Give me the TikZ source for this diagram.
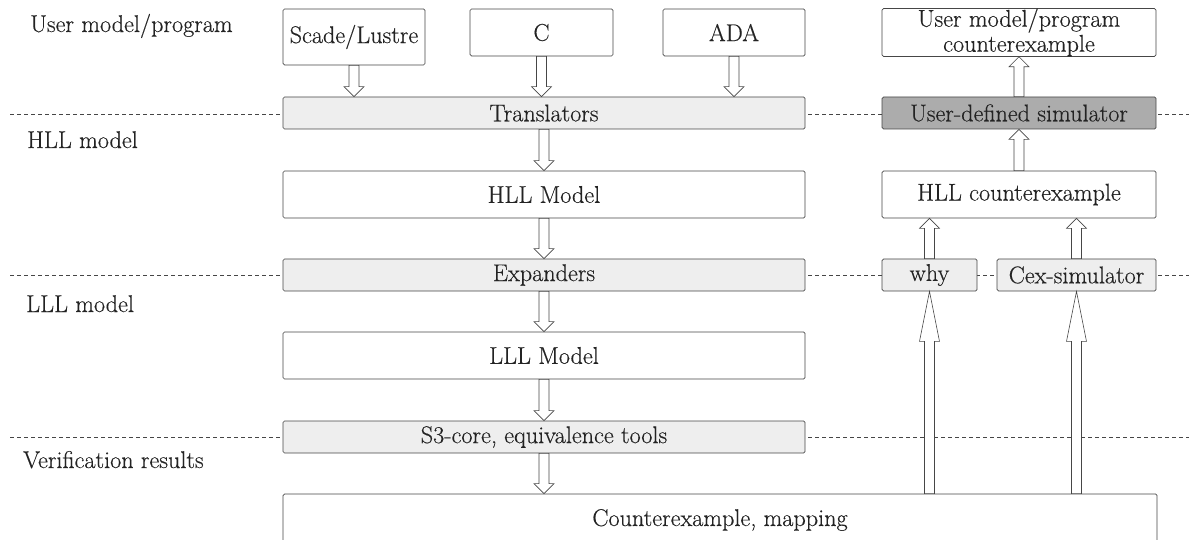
\documentclass[tikz,border=0pt]{standalone}
\usepackage{fontspec}
\setmainfont{Latin Modern Roman}[UprightFeatures={FakeBold=0.35}]
\usetikzlibrary{calc}
\definecolor{lightfill}{RGB}{238,238,238}
\definecolor{darkfill}{RGB}{172,172,172}
\definecolor{edge}{RGB}{70,70,70}
\definecolor{ink}{RGB}{35,35,35}
% hollow vertical block arrow from #2 to #3, head length #1
\newcommand\blockarrow[3][10pt]{%
  \draw[barrow] let \p1=(#2), \p2=(#3), \n1={sign(\y2-\y1)} in
    (\x1-5pt,\y1) -- (\x1-5pt,\y2-\n1*#1) -- (\x1-10pt,\y2-\n1*#1) -- (\x1,\y2)
    -- (\x1+10pt,\y2-\n1*#1) -- (\x1+5pt,\y2-\n1*#1) -- (\x1+5pt,\y1) -- cycle;}
\begin{document}
\begin{tikzpicture}[x=1pt,y=-1pt,
  txt/.style={text=ink, font=\rmfamily\fontsize{24.2}{25}\selectfont},
  box/.style={txt, draw=edge, line width=0.7pt, rounded corners=1.5pt, fill=white,
    inner sep=0pt, align=center},
  tool/.style={box, fill=lightfill},
  usertool/.style={box, fill=darkfill},
  layer/.style={txt, inner sep=0pt, anchor=base west},
  sep/.style={draw=edge, line width=0.6pt, dash pattern=on 4pt off 3pt},
  barrow/.style={draw=edge, fill=white, line width=0.6pt, line join=miter}]
\useasboundingbox (0,0) rectangle (1189,540);

% layer separators
\draw[sep] (10,114) -- (1189,114);
\draw[sep] (10,275) -- (1189,275);
\draw[sep] (10,437) -- (1189,437);

% layer names
\node[layer] (luser) at (30,32) {User model/program};
\node[layer] (lhll) at (27,148) {HLL model};
\node[layer] (llll) at (26,312) {LLL model};
\node[layer] (lver) at (23,468) {Verification results};

% source languages
\node[box, minimum width=142pt, minimum height=56pt] (scade) at (354,37) {Scade/Lustre};
\node[box, minimum width=143pt, minimum height=47pt] (cbox) at (541.5,32.5) {C};
\node[box, minimum width=142pt, minimum height=47pt] (ada) at (734,32.5) {ADA};

% main tool chain
\node[tool, minimum width=522pt, minimum height=32pt] (trans) at (544,113) {Translators};
\node[box, minimum width=522pt, minimum height=47pt] (hll) at (544,194.5) {HLL Model};
\node[tool, minimum width=522pt, minimum height=32pt] (exp) at (544,275) {Expanders};
\node[box, minimum width=522pt, minimum height=47pt] (lll) at (544,355.5) {LLL Model};
\node[tool, minimum width=522pt, minimum height=32pt] (s3) at (544,437) {S3-core, equivalence tools};
\node[box, minimum width=874pt, minimum height=52pt] (cm) at (720,520) {Counterexample, mapping};

% counterexample back-translation
\node[box, minimum width=274pt, minimum height=47pt] (ucex) at (1019,32.5) {User model/program\\counterexample};
\node[usertool, minimum width=274pt, minimum height=32pt] (usim) at (1019,113) {User-defined simulator};
\node[box, minimum width=274pt, minimum height=47pt] (hllcex) at (1019,194.5) {HLL counterexample};
\node[tool, minimum width=95pt, minimum height=32pt] (why) at (929.5,275) {why};
\node[tool, minimum width=159pt, minimum height=32pt] (cexsim) at (1076.5,275) {Cex-simulator};

% downward flow
\blockarrow{scade.south}{trans.north}
\blockarrow{cbox.south}{trans.north}
\blockarrow{ada.south}{trans.north}
\blockarrow{trans.south}{hll.north}
\blockarrow{hll.south}{exp.north}
\blockarrow{exp.south}{lll.north}
\blockarrow{lll.south}{s3.north}
\blockarrow{s3.south}{cm.north}

% upward flow
\blockarrow[50pt]{why.south |- cm.north}{why.south}
\blockarrow[50pt]{cexsim.south |- cm.north}{cexsim.south}
\blockarrow{why.north}{hllcex.south}
\blockarrow{cexsim.north}{hllcex.south}
\blockarrow{hllcex.north}{usim.south}
\blockarrow{usim.north}{ucex.south}
\end{tikzpicture}
\end{document}
